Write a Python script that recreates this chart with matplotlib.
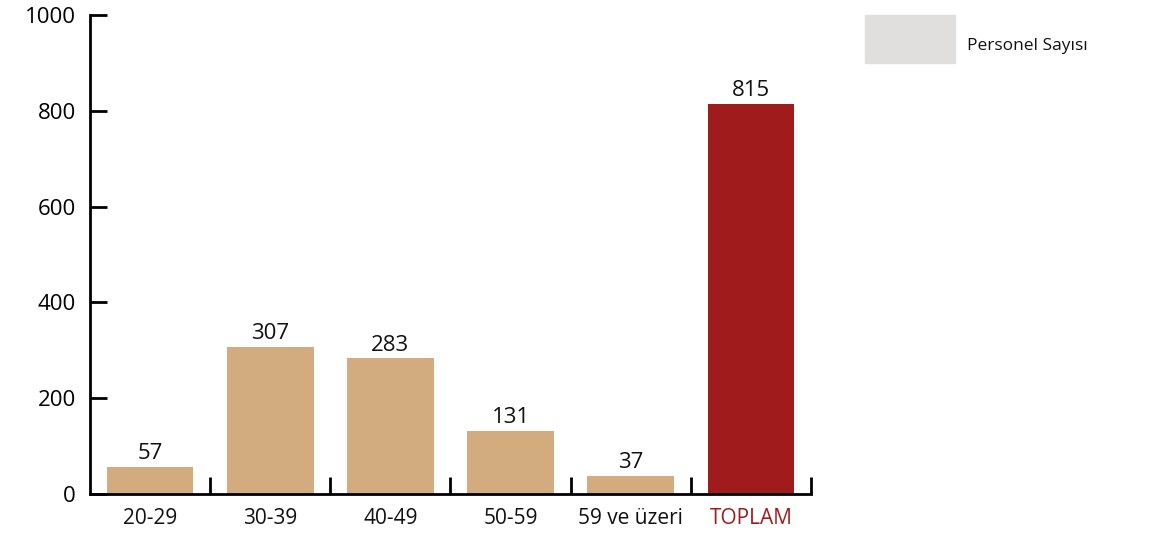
import matplotlib
matplotlib.use("Agg")
import matplotlib.pyplot as plt
from matplotlib.patches import Rectangle

categories = ["20-29", "30-39", "40-49", "50-59", "59 ve üzeri", "TOPLAM"]
values = [57, 307, 283, 131, 37, 815]
bar_colors = ["#D2AB7F", "#D2AB7F", "#D2AB7F", "#D2AB7F", "#D2AB7F", "#A01C1C"]
yticks = [0, 200, 400, 600, 800, 1000]
legend_label = "Personel Sayısı"

plt.rcParams['font.family'] = ['Open Sans', 'DejaVu Sans']

fig = plt.figure(figsize=(11.53, 5.36), dpi=100)
ax = fig.add_axes([90/1153, 42/536, (811-90)/1153, (494-15)/536])

x = list(range(len(categories)))
ax.bar(x, values, width=0.72, color=bar_colors, zorder=2)
for xi, v in zip(x, values):
    ax.text(xi, v + 6, str(v), ha='center', va='bottom', fontsize=16, color='#111111')

ax.set_xlim(-0.5, len(categories) - 0.5)
ax.set_ylim(0, 1000)
ax.set_yticks(yticks)
ax.set_yticklabels([str(t) for t in yticks], fontsize=16)
ax.tick_params(axis='y', direction='in', length=12, width=2, pad=10)
for lbl in ax.get_yticklabels():
    lbl.set_verticalalignment('center_baseline')

# x ticks at category boundaries (inward), labels at centres
ax.set_xticks([i + 0.5 for i in range(len(categories))])
ax.set_xticklabels([])
ax.tick_params(axis='x', direction='in', length=12, width=2)
for xi, c in zip(x, categories):
    col = '#A01C1C' if c == "TOPLAM" else '#111111'
    ax.text(xi, -30, c, ha='center', va='top', fontsize=15, color=col,
            transform=ax.transData, clip_on=False)

for s in ['top', 'right']:
    ax.spines[s].set_visible(False)
ax.spines['left'].set_linewidth(2)
ax.spines['bottom'].set_linewidth(2)

# legend
fig.patches.append(Rectangle((865/1153, 1 - 63/536), 90/1153, 48/536,
                             transform=fig.transFigure, color='#E0DFDE'))
fig.text(967/1153, 1 - 46/536, legend_label, ha='left', va='center', fontsize=12.5, color='#111111')

fig.savefig("out.png", dpi=100)
